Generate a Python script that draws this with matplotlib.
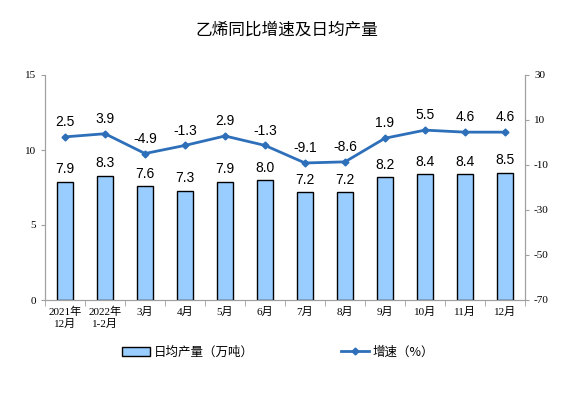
import numpy as np
import matplotlib.pyplot as plt

plt.rcParams['font.family'] = ['Liberation Sans', 'Noto Sans CJK SC', 'DejaVu Sans']
plt.rcParams['axes.unicode_minus'] = False

months = ['2021年\n12月', '2022年\n1-2月', '3月', '4月', '5月', '6月',
          '7月', '8月', '9月', '10月', '11月', '12月']
output = [7.9, 8.3, 7.6, 7.3, 7.9, 8.0, 7.2, 7.2, 8.2, 8.4, 8.4, 8.5]
growth = [2.5, 3.9, -4.9, -1.3, 2.9, -1.3, -9.1, -8.6, 1.9, 5.5, 4.6, 4.6]

fig = plt.figure(figsize=(5.74, 3.94), dpi=100)
ax = fig.add_axes([45 / 574, 1 - 300 / 394, 480 / 574, 225 / 394])
x = np.arange(len(months))

bars = ax.bar(x, output, width=0.4, color='#99ccff', edgecolor='black', linewidth=1.0,
              label='日均产量（万吨）', zorder=2)
ax.set_xlim(-0.5, len(months) - 0.5)
ax.set_ylim(0, 15)
ax.set_yticks([0, 5, 10, 15])
for xi, v in zip(x, output):
    ax.text(xi, v + 0.35, f'{v:.1f}', ha='center', va='bottom', fontsize=10)

ax2 = ax.twinx()
line, = ax2.plot(x, growth, color='#2e6fba', linewidth=2, marker='D', markersize=3.5,
                 label='增速（%）', zorder=3)
ax2.set_ylim(-70, 30)
ax2.set_yticks([-70, -50, -30, -10, 10, 30])
for xi, v in zip(x, growth):
    ax2.text(xi, v + 3.5, f'{v:.1f}', ha='center', va='bottom', fontsize=10)

serif = ['Liberation Serif', 'Noto Sans CJK SC']
for a in (ax, ax2):
    a.spines['top'].set_visible(False)
    for s in ('left', 'right', 'bottom'):
        a.spines[s].set_color('#a0a0a0')
    a.tick_params(axis='y', length=3, color='#a0a0a0', labelsize=8)
    for lab in a.get_yticklabels():
        lab.set_family(serif)

ax.set_xticks(x)
ax.set_xticklabels(months, fontsize=8, family=serif, linespacing=1.2)
ax.tick_params(axis='x', length=0, pad=5)
ax.set_xticks(np.arange(-0.5, len(months), 1), minor=True)
ax.tick_params(axis='x', which='minor', length=4, color='#a0a0a0')

fig.text(0.5, 1 - 30 / 394, '乙烯同比增速及日均产量', ha='center', va='center',
         fontsize=12, family=['Noto Sans CJK SC'])

fig.legend(handles=[bars, line], loc='center', bbox_to_anchor=(278 / 574, 1 - 352 / 394),
           ncol=2, frameon=False, columnspacing=7.0, handlelength=2.2,
           handletextpad=0.3, prop={'family': ['Noto Sans CJK SC'], 'size': 9})

fig.savefig('out.png', dpi=100)
